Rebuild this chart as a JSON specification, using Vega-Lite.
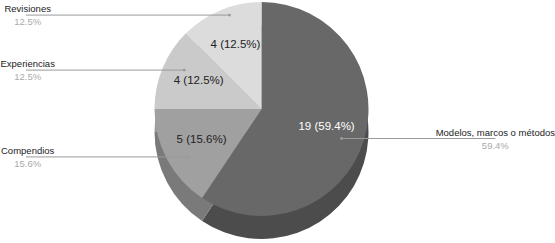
{
  "$schema": "https://vega.github.io/schema/vega-lite/v6.json",
  "width": 555,
  "height": 243,
  "padding": 0,
  "autosize": {"type": "fit", "contains": "padding"},
  "background": "white",
  "config": {"view": {"stroke": null}, "font": "Liberation Sans"},
  "data": {"values": [
    {"categoria": "Modelos, marcos o métodos", "n": 19},
    {"categoria": "Compendios", "n": 5},
    {"categoria": "Experiencias", "n": 4},
    {"categoria": "Revisiones", "n": 4}
  ]},
  "transform": [
    {"window": [{"op": "row_number", "as": "i"}, {"op": "sum", "field": "n", "as": "cum"}], "frame": [null, 0]},
    {"joinaggregate": [{"op": "sum", "field": "n", "as": "total"}]},
    {"calculate": "datum.n / datum.total", "as": "pct"},
    {"calculate": "2 * PI * (datum.cum - datum.n / 2) / datum.total", "as": "mid"},
    {"calculate": "datum.n + ' (' + format(datum.pct * 100, '.1f') + '%)'", "as": "inner"},
    {"calculate": "format(datum.pct * 100, '.1f') + '%'", "as": "pctLabel"},
    {"calculate": "0.92 * sin(datum.mid)", "as": "px"},
    {"calculate": "0.1168 + 0.95 * cos(datum.mid)", "as": "py"},
    {"calculate": "datum.px < 0 ? -2.5935 : 2.575", "as": "edge"},
    {"calculate": "datum.px < 0 ? -2.575 : 2.575", "as": "textEdge"},
    {"calculate": "datum.px < 0 ? 'left' : 'right'", "as": "side"}
  ],
  "layer": [
    {
      "mark": {"type": "arc", "radius": 107, "yOffset": 10.5},
      "encoding": {
        "theta": {"field": "n", "type": "quantitative", "stack": true},
        "order": {"field": "i", "type": "quantitative"},
        "color": {"field": "categoria", "type": "nominal", "legend": null,
          "scale": {"domain": ["Modelos, marcos o métodos", "Compendios", "Experiencias", "Revisiones"],
                    "range": ["#4c4c4c", "#7a7a7a", "#9a9a9a", "#aaaaaa"]}}
      }
    },
    {
      "mark": {"type": "arc", "radius": 107, "yOffset": -12.5},
      "encoding": {
        "theta": {"field": "n", "type": "quantitative", "stack": true},
        "order": {"field": "i", "type": "quantitative"},
        "color": {"field": "categoria", "type": "nominal", "legend": null,
          "scale": {"domain": ["Modelos, marcos o métodos", "Compendios", "Experiencias", "Revisiones"],
                    "range": ["#686868", "#a0a0a0", "#cacaca", "#dcdcdc"]}}
      }
    },
    {
      "mark": {"type": "text", "radius": 68, "yOffset": -14, "fontSize": 11.5, "baseline": "middle"},
      "encoding": {
        "theta": {"field": "n", "type": "quantitative", "stack": true},
        "order": {"field": "i", "type": "quantitative"},
        "text": {"field": "inner"},
        "color": {"condition": {"test": "datum.i == 1", "value": "white"}, "value": "#222222"}
      }
    },
    {
      "mark": {"type": "rule", "color": "#9a9a9a", "strokeWidth": 1},
      "encoding": {
        "x": {"field": "edge", "type": "quantitative", "axis": null,
              "scale": {"domain": [-2.5935, 2.5935], "nice": false, "zero": false}},
        "x2": {"field": "px"},
        "y": {"field": "py", "type": "quantitative", "axis": null,
              "scale": {"domain": [-1.1355, 1.1355], "nice": false, "zero": false}}
      }
    },
    {
      "mark": {"type": "point", "filled": true, "size": 8, "color": "#9a9a9a", "opacity": 1},
      "encoding": {
        "x": {"field": "px", "type": "quantitative"},
        "y": {"field": "py", "type": "quantitative"}
      }
    },
    {
      "mark": {"type": "text", "fontSize": 9.5, "dy": -3, "baseline": "alphabetic", "color": "#222222"},
      "encoding": {
        "x": {"field": "textEdge", "type": "quantitative"},
        "y": {"field": "py", "type": "quantitative"},
        "text": {"field": "categoria"},
        "align": {"field": "side", "type": "nominal", "scale": null}
      }
    },
    {
      "mark": {"type": "text", "fontSize": 9.5, "dy": 10, "baseline": "alphabetic", "color": "#aaaaaa"},
      "encoding": {
        "x": {"field": "textEdge", "type": "quantitative"},
        "y": {"field": "py", "type": "quantitative"},
        "text": {"field": "pctLabel"},
        "align": {"field": "side", "type": "nominal", "scale": null}
      }
    }
  ],
  "resolve": {"scale": {"color": "independent"}}
}
